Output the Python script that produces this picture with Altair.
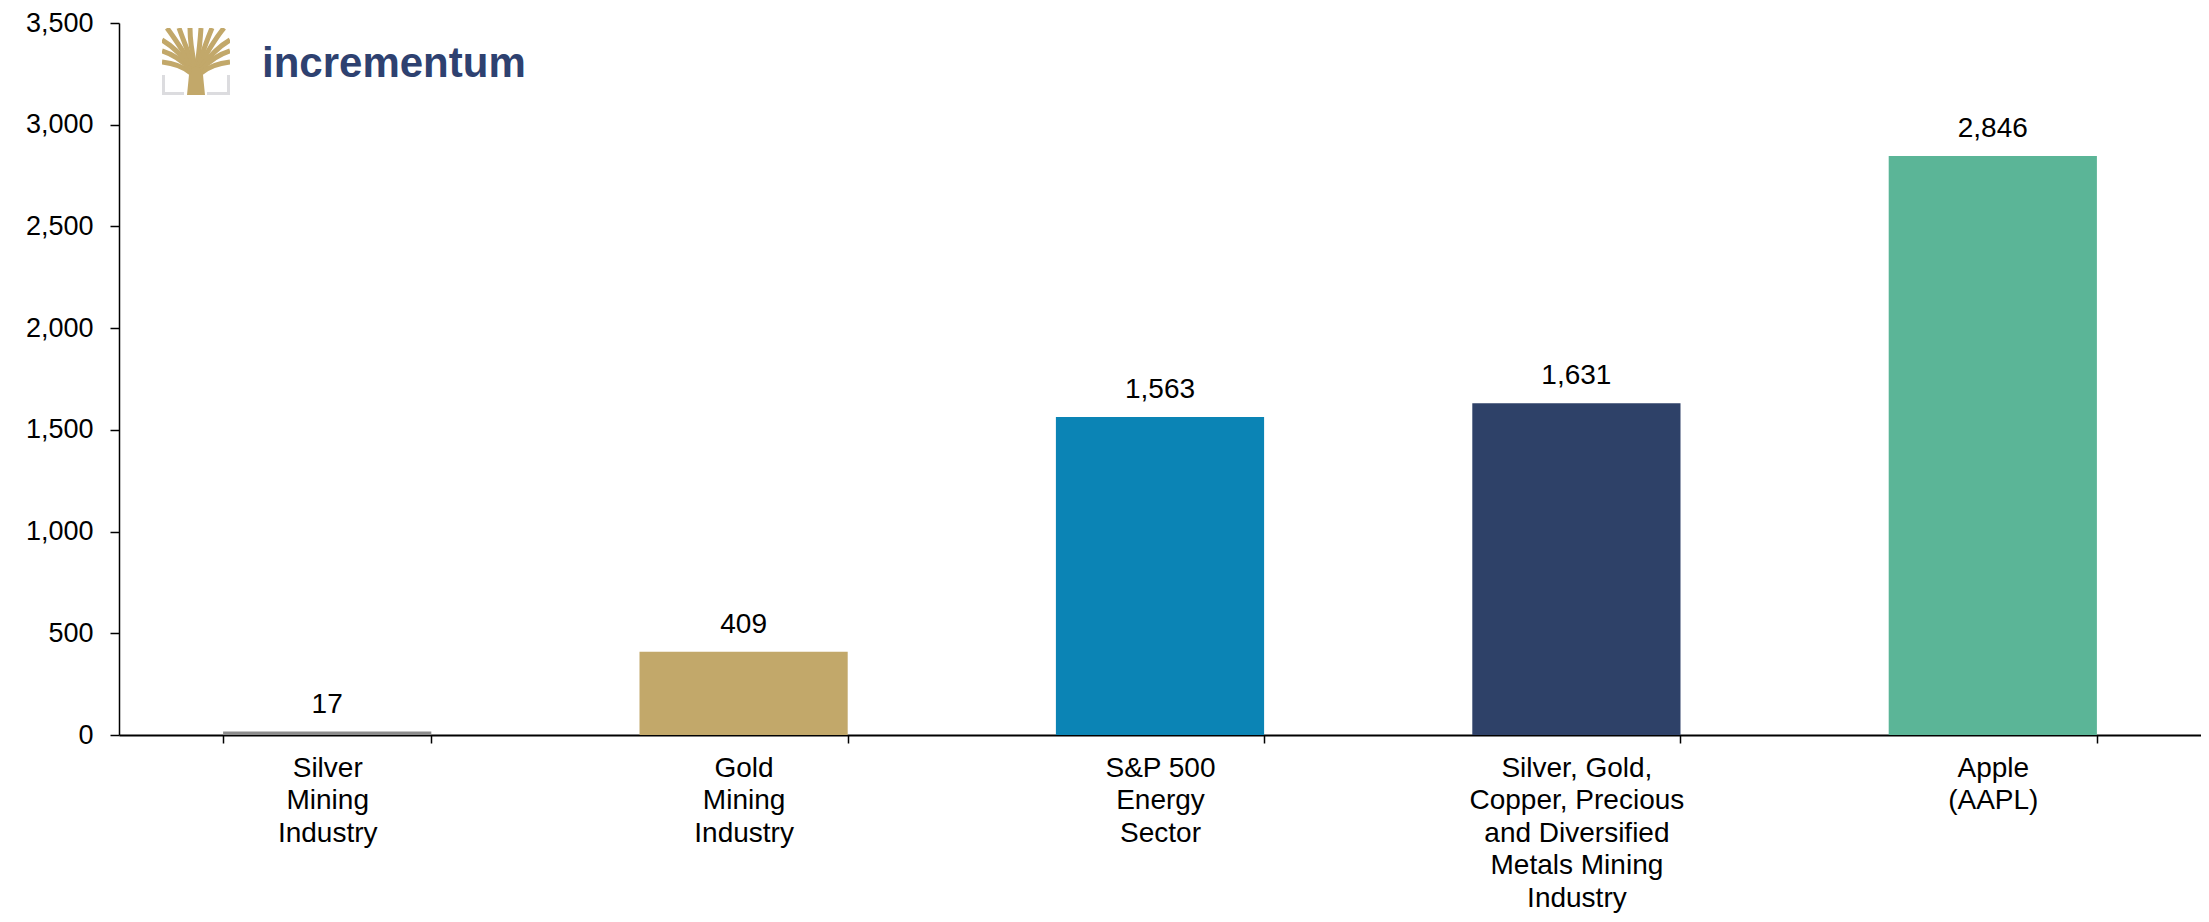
import altair as alt
import pandas as pd
import urllib.parse

categories = [
    "Silver|Mining|Industry",
    "Gold|Mining|Industry",
    "S&P 500|Energy|Sector",
    "Silver, Gold,|Copper, Precious|and Diversified|Metals Mining|Industry",
    "Apple|(AAPL)",
]
values = [17, 409, 1563, 1631, 2846]
colors = ["#8c8c8c", "#c2a86a", "#0b84b5", "#2e4168", "#5bb597"]
y_ticks = [0, 500, 1000, 1500, 2000, 2500, 3000, 3500]

df = pd.DataFrame({"cat": categories, "value": values, "color": colors})

FONT = "Liberation Sans, Arial, sans-serif"

x_enc = alt.X(
    "cat:N",
    sort=categories,
    title=None,
    scale=alt.Scale(paddingInner=0.5, paddingOuter=0.25),
    axis=alt.Axis(
        labelExpr="isValid(datum.value) ? split(datum.value, '|') : ''",
        labelAngle=0,
        labelFont=FONT,
        labelFontSize=28,
        labelLineHeight=32.5,
        labelLimit=500,
        labelColor="#000000",
        labelPadding=11,
        labelBaseline="top",
        tickBand="extent",
        tickColor="#000000",
        tickSize=8,
        tickWidth=1.5,
        domainColor="#000000",
        domainWidth=2,
        grid=False,
    ),
)
y_enc = alt.Y(
    "value:Q",
    title=None,
    scale=alt.Scale(domain=[0, 3500], nice=False, zero=True),
    axis=alt.Axis(
        values=y_ticks,
        format=",.0f",
        labelFont=FONT,
        labelFontSize=27,
        labelColor="#000000",
        labelPadding=17,
        tickColor="#000000",
        tickSize=9,
        tickWidth=1.5,
        domainColor="#000000",
        domainWidth=1.5,
        grid=False,
    ),
)

bars = alt.Chart(df).mark_bar().encode(
    x=x_enc,
    y=y_enc,
    color=alt.Color("color:N", scale=None, legend=None),
)

labels = alt.Chart(df).mark_text(
    baseline="alphabetic", dy=-19, font=FONT, fontSize=28, color="#000000"
).encode(
    x=alt.X("cat:N", sort=categories),
    y="value:Q",
    text=alt.Text("value:Q", format=",.0f"),
)

logo_svg = (
    "<svg xmlns='http://www.w3.org/2000/svg' viewBox='0 0 68 67'>"
    "<path d='M1.5 47 V65.5 H22' stroke='#dcdcdf' stroke-width='3' fill='none'/>"
    "<path d='M45 65.5 H66.5 V47' stroke='#dcdcdf' stroke-width='3' fill='none'/>"
    "<path d='M25 67 L26.5 52 Q27 42 30 38 L38 38 Q41 42 41.5 52 L43 67 Z' fill='#c2a86a'/>"
    "<g stroke='#c2a86a' stroke-width='5' fill='none' stroke-linecap='butt'>"
    "<path d='M29 45 Q18 36 0 34'/>"
    "<path d='M29 42 Q16 28 0 23'/>"
    "<path d='M30 40 Q14 20 0 12'/>"
    "<path d='M31 39 Q14 12 5 0'/>"
    "<path d='M32 39 Q22 14 17 0'/>"
    "<path d='M33 39 Q28 16 28 0'/>"
    "<path d='M35 39 Q38 16 39 0'/>"
    "<path d='M36 39 Q44 14 50 0'/>"
    "<path d='M37 39 Q52 12 62 0'/>"
    "<path d='M38 40 Q54 20 68 12'/>"
    "<path d='M39 42 Q52 28 68 23'/>"
    "<path d='M39 45 Q50 36 68 34'/>"
    "</g></svg>"
)
logo_url = "data:image/svg+xml;charset=utf-8," + urllib.parse.quote(logo_svg)

one = pd.DataFrame({"k": [0]})
logo_img = alt.Chart(one).mark_image(
    align="left", baseline="top", width=68, height=67
).encode(
    x=alt.value(43), y=alt.value(5),
    url=alt.value(logo_url),
)
logo_text = alt.Chart(one).mark_text(
    text="incrementum", align="left", baseline="middle",
    font=FONT, fontSize=42, fontWeight="bold", color="#2e4170",
).encode(x=alt.value(143), y=alt.value(41))

chart = alt.layer(bars, labels, logo_img, logo_text).properties(
    width=2082,
    height=712,
    background="#ffffff",
    autosize=alt.AutoSizeParams(type="none"),
    padding={"left": 111, "top": 15, "right": 0, "bottom": 179},
).configure_view(stroke=None)

chart.save("out.html", embed_options={"renderer": "svg", "actions": False})
